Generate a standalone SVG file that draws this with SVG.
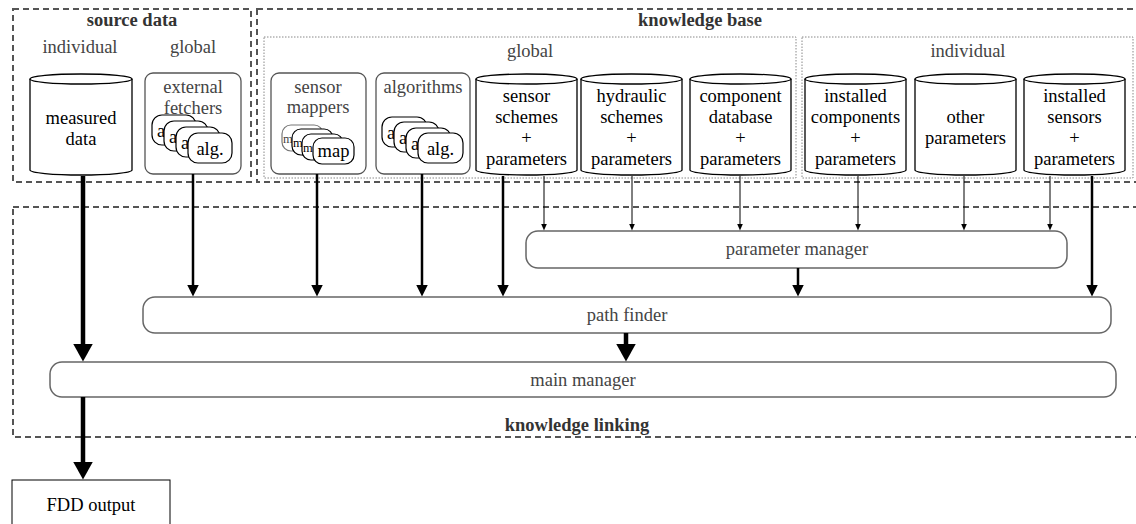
<svg xmlns="http://www.w3.org/2000/svg" width="1136" height="524" viewBox="0 0 1136 524">
<defs>
<style>
text{font-family:"Liberation Serif","Times New Roman",serif;font-size:18.5px;text-anchor:middle;fill:#000}
.g{fill:#444}
.b{font-weight:bold;fill:#333}
.s{text-anchor:start}
.pm{text-anchor:start;font-size:12.5px}
.dash{fill:none;stroke:#555;stroke-width:2;stroke-dasharray:6 4}
.dot{fill:none;stroke:#888;stroke-width:1;stroke-dasharray:1.5 1.5}
.rr{fill:#fff;stroke:#555;stroke-width:1.3}
.card{fill:#fff;stroke:#000;stroke-width:1.2}
.cyl{fill:#fff;stroke:#000;stroke-width:1.3}
.bar{fill:#fff;stroke:#666;stroke-width:1.5}
.thick{stroke:#000;stroke-width:4.5;fill:none}
.med{stroke:#000;stroke-width:2.5;fill:none}
.thin{stroke:#000;stroke-width:1;fill:none}
</style>
<marker id="hThick" markerUnits="userSpaceOnUse" markerWidth="19" markerHeight="20" refX="0.5" refY="10" orient="auto"><path d="M0,0 L18,10 L0,20 Z" fill="#000"/></marker>
<marker id="hMed" markerUnits="userSpaceOnUse" markerWidth="13" markerHeight="12" refX="0.5" refY="6" orient="auto"><path d="M0,0 L12,6 L0,12 Z" fill="#000"/></marker>
<marker id="hThin" markerUnits="userSpaceOnUse" markerWidth="8" markerHeight="6" refX="0.5" refY="3" orient="auto"><path d="M0,0 L7,3 L0,6 Z" fill="#000"/></marker>
</defs>
<rect width="1136" height="524" fill="#fff"/>

<g id="containers">
<rect class="dash" x="13" y="9" width="238" height="173"/>
<text class="b" x="132" y="26">source data</text>
<text class="g" x="80" y="53">individual</text>
<text class="g" x="193" y="53">global</text>
<rect class="dash" x="257" y="9" width="890" height="173"/>
<text class="b" x="700" y="26">knowledge base</text>
<rect class="dot" x="264" y="37" width="532" height="141"/>
<text class="g" x="530" y="57">global</text>
<rect class="dot" x="802" y="37" width="331" height="141"/>
<text class="g" x="968" y="57">individual</text>
<rect class="dash" x="13" y="207" width="1134" height="230"/>
<text class="b" x="577" y="431">knowledge linking</text>
</g>

<g id="measured-data">
<path class="cyl" d="M30,79 A51,5 0 0 1 132,79 V170 A51,5 0 0 1 30,170 Z"/>
<path class="cyl" d="M30,79 A51,5 0 0 0 132,79"/>
<text x="81" y="124">measured</text>
<text x="81" y="145">data</text>
</g>

<g id="external-fetchers">
<rect class="rr" x="145" y="73" width="96" height="101" rx="8"/>
<text class="g" x="193" y="93">external</text>
<text class="g" x="193" y="114">fetchers</text>
<rect class="card" x="152" y="115" width="44" height="30" rx="10"/><text class="s" x="157" y="137">a</text>
<rect class="card" x="164" y="121" width="44" height="30" rx="10"/><text class="s" x="169" y="143">a</text>
<rect class="card" x="176" y="127" width="44" height="30" rx="10"/><text class="s" x="181" y="149">a</text>
<rect class="card" x="188" y="133" width="44" height="30" rx="10"/><text x="210" y="155">alg.</text>
</g>

<g id="sensor-mappers">
<rect class="rr" x="271" y="73" width="95" height="101" rx="8"/>
<text class="g" x="318" y="93">sensor</text>
<text class="g" x="318" y="113">mappers</text>
<rect class="card" x="282" y="125" width="41" height="26" rx="9" style="stroke:#777"/><text class="pm g" x="283" y="143">m</text>
<rect class="card" x="292" y="129" width="41" height="26" rx="9"/><text class="pm" x="293" y="147">m</text>
<rect class="card" x="302" y="134" width="41" height="26" rx="9"/><text class="pm" x="303" y="152">m</text>
<rect class="card" x="313" y="138" width="41" height="26" rx="9"/><text x="333.5" y="157">map</text>
</g>

<g id="algorithms">
<rect class="rr" x="376" y="73" width="94" height="101" rx="8"/>
<text class="g" x="423" y="93">algorithms</text>
<rect class="card" x="382" y="117" width="45" height="30" rx="10"/><text class="s" x="387" y="139">a</text>
<rect class="card" x="394" y="122" width="45" height="30" rx="10"/><text class="s" x="399" y="144">a</text>
<rect class="card" x="406" y="128" width="45" height="30" rx="10"/><text class="s" x="411" y="150">a</text>
<rect class="card" x="418" y="133" width="45" height="30" rx="10"/><text x="440.5" y="155">alg.</text>
</g>

<g id="sensor-schemes">
<path class="cyl" d="M476,79 A50.5,5 0 0 1 577,79 V170 A50.5,5 0 0 1 476,170 Z"/>
<path class="cyl" d="M476,79 A50.5,5 0 0 0 577,79"/>
<text x="526.5" y="102">sensor</text>
<text x="526.5" y="123">schemes</text>
<text x="526.5" y="144">+</text>
<text x="526.5" y="165">parameters</text>
</g>

<g id="hydraulic-schemes">
<path class="cyl" d="M581,79 A50.5,5 0 0 1 682,79 V170 A50.5,5 0 0 1 581,170 Z"/>
<path class="cyl" d="M581,79 A50.5,5 0 0 0 682,79"/>
<text x="631.5" y="102">hydraulic</text>
<text x="631.5" y="123">schemes</text>
<text x="631.5" y="144">+</text>
<text x="631.5" y="165">parameters</text>
</g>

<g id="component-database">
<path class="cyl" d="M690,79 A50.5,5 0 0 1 791,79 V170 A50.5,5 0 0 1 690,170 Z"/>
<path class="cyl" d="M690,79 A50.5,5 0 0 0 791,79"/>
<text x="740.5" y="102">component</text>
<text x="740.5" y="123">database</text>
<text x="740.5" y="144">+</text>
<text x="740.5" y="165">parameters</text>
</g>

<g id="installed-components">
<path class="cyl" d="M805,79 A50.5,5 0 0 1 906,79 V170 A50.5,5 0 0 1 805,170 Z"/>
<path class="cyl" d="M805,79 A50.5,5 0 0 0 906,79"/>
<text x="855.5" y="102">installed</text>
<text x="855.5" y="123">components</text>
<text x="855.5" y="144">+</text>
<text x="855.5" y="165">parameters</text>
</g>

<g id="other-parameters">
<path class="cyl" d="M915,79 A50.5,5 0 0 1 1016,79 V170 A50.5,5 0 0 1 915,170 Z"/>
<path class="cyl" d="M915,79 A50.5,5 0 0 0 1016,79"/>
<text x="965.5" y="123">other</text>
<text x="965.5" y="144">parameters</text>
</g>

<g id="installed-sensors">
<path class="cyl" d="M1024,79 A50.5,5 0 0 1 1125,79 V170 A50.5,5 0 0 1 1024,170 Z"/>
<path class="cyl" d="M1024,79 A50.5,5 0 0 0 1125,79"/>
<text x="1074.5" y="102">installed</text>
<text x="1074.5" y="123">sensors</text>
<text x="1074.5" y="144">+</text>
<text x="1074.5" y="165">parameters</text>
</g>

<g id="parameter-manager">
<rect class="bar" x="526" y="231" width="541" height="37" rx="12"/>
<text class="g" x="797" y="255">parameter manager</text>
</g>

<g id="path-finder">
<rect class="bar" x="143" y="297" width="968" height="36" rx="12"/>
<text class="g" x="627" y="321">path finder</text>
</g>

<g id="main-manager">
<rect class="bar" x="50" y="362" width="1066" height="35" rx="12"/>
<text class="g" x="583" y="386">main manager</text>
</g>

<g id="fdd-output">
<rect x="12" y="480" width="158" height="60" fill="#fff" stroke="#000" stroke-width="1"/>
<text x="91" y="511">FDD output</text>
</g>

<g id="connectors">
<line class="thick" x1="83" y1="176" x2="83" y2="344" marker-end="url(#hThick)"/>
<line class="thick" x1="83" y1="397" x2="83" y2="462" marker-end="url(#hThick)"/>
<line class="thick" x1="626" y1="333" x2="626" y2="344" marker-end="url(#hThick)"/>
<line class="med" x1="193" y1="174" x2="193" y2="285" marker-end="url(#hMed)"/>
<line class="med" x1="317" y1="174" x2="317" y2="285" marker-end="url(#hMed)"/>
<line class="med" x1="422" y1="174" x2="422" y2="285" marker-end="url(#hMed)"/>
<line class="med" x1="503" y1="176" x2="503" y2="285" marker-end="url(#hMed)"/>
<line class="med" x1="1092" y1="176" x2="1092" y2="285" marker-end="url(#hMed)"/>
<line class="med" x1="798" y1="268" x2="798" y2="285" marker-end="url(#hMed)"/>
<line class="thin" x1="544" y1="176" x2="544" y2="224" marker-end="url(#hThin)"/>
<line class="thin" x1="632" y1="176" x2="632" y2="224" marker-end="url(#hThin)"/>
<line class="thin" x1="740" y1="176" x2="740" y2="224" marker-end="url(#hThin)"/>
<line class="thin" x1="858" y1="176" x2="858" y2="224" marker-end="url(#hThin)"/>
<line class="thin" x1="964" y1="176" x2="964" y2="224" marker-end="url(#hThin)"/>
<line class="thin" x1="1050" y1="176" x2="1050" y2="224" marker-end="url(#hThin)"/>
</g>
</svg>
